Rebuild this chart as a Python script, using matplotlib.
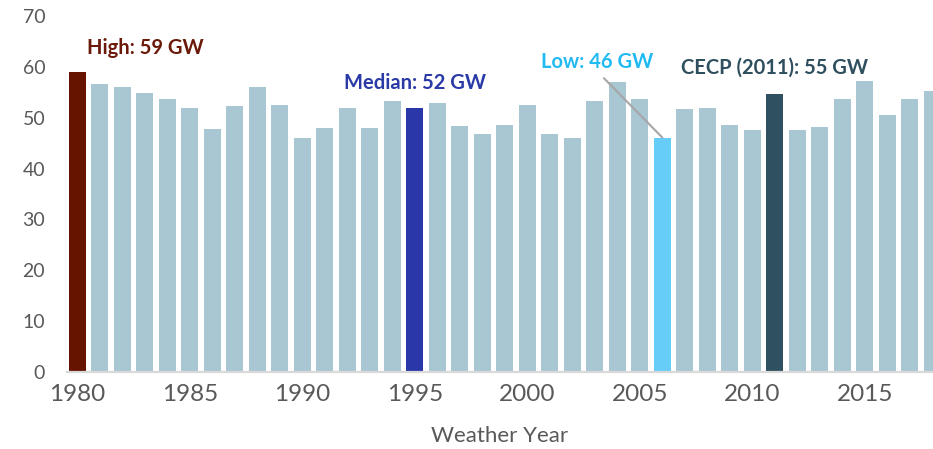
import matplotlib
matplotlib.use("Agg")
import matplotlib.pyplot as plt

plt.rcParams['font.family'] = ['Lato', 'DejaVu Sans']

# peak demand by weather year (GW)
years = list(range(1980, 2019))
peak_gw = [59.0, 56.6, 56.1, 54.9, 53.7, 51.9, 47.8, 52.2, 56.1, 52.5,
           46.1, 48.0, 51.9, 48.0, 53.2, 51.9, 52.9, 48.3, 46.8, 48.5,
           52.4, 46.8, 46.1, 53.2, 57.1, 53.7, 46.1, 51.7, 51.9, 48.5,
           47.6, 54.6, 47.6, 48.1, 53.7, 57.3, 50.5, 53.7, 55.2]

tick_years = [1980, 1985, 1990, 1995, 2000, 2005, 2010, 2015]
y_ticks = [0, 10, 20, 30, 40, 50, 60, 70]

# highlighted years: label text, colour
callout_years = [1980, 1995, 2006, 2011]
callout_text = ["High: 59 GW", "Median: 52 GW", "Low: 46 GW", "CECP (2011): 55 GW"]
callout_color = ["#661400", "#2a37a8", "#66ccf8", "#2f5060"]
text_color = ["#6b1a0a", "#2a3aa6", "#22baf2", "#2f4f5f"]

base_color = "#a9c6d3"
colors = [base_color] * len(years)
for yr, c in zip(callout_years, callout_color):
    colors[years.index(yr)] = c

fig = plt.figure(figsize=(9.33, 4.49), dpi=100)
ax = fig.add_axes([0.0715, 0.1715, 0.9285, 0.793])

ax.bar(years, peak_gw, width=0.74, color=colors, zorder=2)

ax.set_xlim(1979.53, 2018.03)
ax.set_ylim(0, 70)
ax.set_yticks(y_ticks)
ax.set_xticks(tick_years)

for s in ['top', 'right', 'left']:
    ax.spines[s].set_visible(False)
ax.spines['bottom'].set_color('#d9d9d9')
ax.spines['bottom'].set_linewidth(1.6)

ax.tick_params(axis='y', length=0, pad=15.5, labelsize=14, labelcolor='#595959')
ax.tick_params(axis='x', length=0, pad=8.5, labelsize=17.5, labelcolor='#595959')

ax.set_xlabel("Weather Year", fontsize=16, color='#595959', labelpad=15)

# callouts (offsets in pixels from bar top)
offsets = [(68, 18), (0, 19), (-65, 70), (0, 21)]
for yr, txt, c, off in zip(callout_years, callout_text, text_color, offsets):
    v = peak_gw[years.index(yr)]
    if yr == 2006:
        ax.annotate(txt, xy=(yr, v), xytext=off, textcoords='offset pixels',
                    ha='center', va='baseline', fontsize=14.5, fontweight='bold',
                    color=c,
                    arrowprops=dict(arrowstyle='-', color='#a6a6a6', lw=1.5,
                                    relpos=(0.5, 0), shrinkA=4, shrinkB=0))
    else:
        ax.annotate(txt, xy=(yr, v), xytext=off, textcoords='offset pixels',
                    ha='center', va='baseline', fontsize=14.5, fontweight='bold',
                    color=c)

fig.savefig("out.png", dpi=100)
